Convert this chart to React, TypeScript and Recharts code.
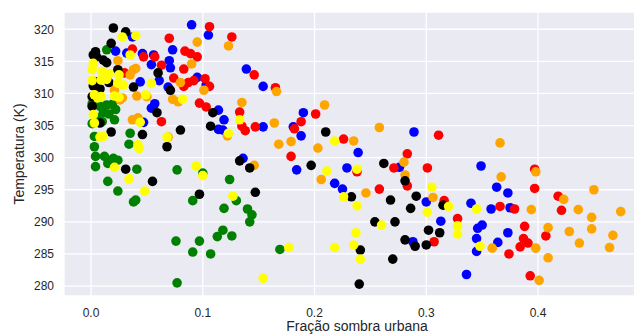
import React from 'react';
import { ScatterChart, Scatter, XAxis, YAxis, CartesianGrid, Label } from 'recharts';

const greenPoints: [number, number][] = [
  [0.014, 316.8], [0.001, 308.4], [0.008, 308.0], [0.014, 308.2], [0.019, 308.3], [0.022, 307.5],
  [0.011, 307.0], [0.016, 306.8], [0.005, 306.2], [0.021, 305.9], [0.001, 305.3], [0.010, 305.6],
  [0.003, 303.3], [0.003, 301.7], [0.004, 300.2], [0.012, 300.2], [0.016, 299.6], [0.020, 299.9],
  [0.024, 299.6], [0.015, 299.1], [0.035, 303.8], [0.034, 302.1], [0.041, 298.2], [0.015, 296.3],
  [0.024, 294.8], [0.038, 293.1], [0.040, 293.4], [0.077, 298.1], [0.076, 287.0], [0.077, 280.5],
  [0.091, 293.3], [0.091, 285.3], [0.097, 287.0], [0.100, 297.6], [0.107, 285.0], [0.113, 287.7],
  [0.118, 288.7], [0.119, 292.1], [0.124, 296.6], [0.126, 287.8], [0.130, 293.3], [0.140, 292.0],
  [0.144, 291.1], [0.142, 290.0], [0.169, 285.7], [0.004, 298.6],
];

const bluePoints: [number, number][] = [
  [0.090, 320.7], [0.105, 319.1], [0.037, 318.8], [0.022, 316.6], [0.032, 316.3], [0.046, 316.2],
  [0.056, 316.0], [0.073, 316.8], [0.070, 315.1], [0.054, 314.5], [0.071, 314.0], [0.095, 312.5],
  [0.103, 311.3], [0.061, 312.0], [0.044, 311.8], [0.069, 311.0], [0.054, 307.7], [0.057, 308.4],
  [0.139, 313.8], [0.154, 311.1], [0.114, 307.4], [0.119, 305.9], [0.114, 304.4], [0.118, 304.3],
  [0.190, 307.0], [0.181, 304.8], [0.188, 303.4], [0.154, 304.8], [0.136, 299.9], [0.184, 298.1],
  [0.047, 305.5], [0.239, 300.8], [0.229, 298.4], [0.218, 296.0], [0.225, 295.1], [0.276, 298.5],
  [0.300, 293.1], [0.313, 290.1], [0.340, 292.9], [0.349, 298.7], [0.363, 295.4], [0.373, 294.5],
  [0.358, 292.0], [0.375, 292.2], [0.350, 289.5], [0.346, 289.0], [0.345, 287.4], [0.345, 285.4],
  [0.364, 286.8], [0.373, 288.3], [0.336, 281.8], [0.288, 286.9], [0.289, 304.0],
];

const redPoints: [number, number][] = [
  [0.106, 320.4], [0.126, 318.8], [0.070, 318.6], [0.037, 316.9], [0.047, 315.7], [0.057, 315.7],
  [0.084, 316.6], [0.089, 316.2], [0.095, 315.7], [0.083, 313.8], [0.063, 314.4], [0.087, 311.7],
  [0.083, 311.1], [0.102, 312.3], [0.106, 311.1], [0.146, 312.9], [0.165, 310.9], [0.097, 308.5],
  [0.103, 307.9], [0.133, 307.1], [0.201, 306.8], [0.188, 305.6], [0.135, 304.9], [0.138, 304.2],
  [0.147, 304.8], [0.179, 300.2], [0.063, 305.6], [0.030, 313.2], [0.182, 304.5], [0.226, 302.9],
  [0.238, 297.8], [0.258, 295.1], [0.271, 298.4], [0.283, 300.6], [0.311, 303.5], [0.301, 298.4],
  [0.397, 298.2], [0.283, 295.6], [0.316, 293.3], [0.328, 290.5], [0.307, 286.9], [0.366, 292.4],
  [0.379, 292.0], [0.374, 285.0], [0.388, 289.3], [0.387, 287.4], [0.384, 286.1], [0.391, 286.7],
  [0.393, 281.6], [0.397, 295.2], [0.407, 287.8], [0.418, 294.0], [0.421, 291.8], [0.074, 312.4],
  [0.092, 312.0],
];

const orangePoints: [number, number][] = [
  [0.095, 318.0], [0.123, 317.4], [0.090, 314.6], [0.080, 311.7], [0.073, 309.1], [0.078, 308.7],
  [0.135, 308.6], [0.101, 310.5], [0.164, 305.4], [0.168, 302.1], [0.179, 302.5], [0.203, 301.5],
  [0.146, 298.8], [0.122, 303.4], [0.069, 303.2], [0.024, 315.1], [0.037, 305.9], [0.042, 306.2],
  [0.050, 309.5], [0.041, 309.6], [0.038, 313.7], [0.035, 312.9], [0.040, 313.9], [0.021, 310.5],
  [0.028, 309.3], [0.026, 309.0], [0.166, 310.3], [0.209, 308.2], [0.235, 302.6], [0.258, 304.7],
  [0.206, 296.6], [0.246, 294.5], [0.366, 302.3], [0.280, 299.3], [0.281, 297.3], [0.306, 293.8],
  [0.367, 297.0], [0.398, 297.8], [0.394, 291.9], [0.359, 285.9], [0.398, 285.9], [0.409, 289.1],
  [0.409, 284.4], [0.401, 280.9], [0.423, 293.5], [0.450, 295.0], [0.436, 291.9], [0.448, 290.7],
  [0.428, 288.5], [0.448, 288.9], [0.437, 286.7], [0.467, 287.9], [0.464, 286.0], [0.474, 291.6],
];

const blackPoints: [number, number][] = [
  [0.020, 320.2], [0.031, 319.6], [0.018, 317.8], [0.004, 316.5], [0.002, 316.0], [0.005, 315.7],
  [0.011, 315.2], [0.014, 314.8], [0.024, 313.7], [0.012, 312.9], [0.005, 311.8], [0.016, 311.7],
  [0.002, 311.2], [0.008, 310.7], [0.038, 311.0], [0.001, 309.5], [0.060, 313.2], [0.071, 310.5],
  [0.059, 307.0], [0.109, 307.0], [0.107, 304.9], [0.080, 304.3], [0.046, 303.6], [0.018, 304.0],
  [0.068, 301.7], [0.008, 305.4], [0.001, 308.0], [0.133, 299.5], [0.142, 298.4], [0.197, 298.8],
  [0.031, 298.2], [0.055, 296.3], [0.097, 294.3], [0.147, 294.6], [0.210, 304.0], [0.262, 299.1],
  [0.233, 293.9], [0.268, 293.4], [0.254, 290.0], [0.272, 290.0], [0.241, 285.6], [0.270, 284.2],
  [0.240, 280.3], [0.281, 296.4], [0.291, 294.0], [0.286, 292.1], [0.315, 292.6], [0.302, 288.7],
  [0.312, 288.3], [0.281, 287.2], [0.290, 286.2], [0.300, 286.4],
];

const yellowPoints: [number, number][] = [
  [0.028, 318.8], [0.040, 319.0], [0.035, 316.0], [0.002, 314.7], [0.001, 313.7], [0.010, 313.4],
  [0.016, 313.1], [0.025, 312.9], [0.009, 312.1], [0.001, 312.0], [0.014, 312.2], [0.024, 311.6],
  [0.029, 311.3], [0.003, 309.8], [0.006, 309.3], [0.009, 309.5], [0.021, 309.6], [0.025, 309.4],
  [0.049, 309.8], [0.054, 311.6], [0.082, 309.1], [0.002, 306.7], [0.003, 305.4], [0.008, 303.2],
  [0.011, 303.3], [0.044, 305.5], [0.068, 303.2], [0.042, 302.0], [0.043, 301.4], [0.133, 305.9],
  [0.123, 303.8], [0.021, 298.5], [0.034, 296.7], [0.048, 294.8], [0.094, 298.7], [0.100, 297.2],
  [0.127, 294.0], [0.154, 281.2], [0.177, 286.0], [0.218, 302.6], [0.211, 297.9], [0.238, 298.2],
  [0.226, 293.9], [0.238, 292.5], [0.260, 289.5], [0.237, 288.3], [0.235, 286.4], [0.218, 286.0],
  [0.241, 284.2], [0.305, 295.4], [0.301, 291.5], [0.320, 292.4], [0.345, 292.0], [0.328, 289.4],
  [0.328, 288.1], [0.348, 286.2],
];

const seriesNames = ['green', 'blue', 'red', 'orange', 'black', 'yellow'];
const seriesColors = ['#008000', '#0000FF', '#FF0000', '#FFA500', '#000000', '#FFFF00'];
const seriesPoints = [greenPoints, bluePoints, redPoints, orangePoints, blackPoints, yellowPoints];

const xTicks = [0, 0.1, 0.2, 0.3, 0.4];
const yTicks = [280, 285, 290, 295, 300, 305, 310, 315, 320];
const xDomain: [number, number] = [-0.0242, 0.5002];
const yDomain: [number, number] = [278.45, 322.69];
const xLabel = 'Fração sombra urbana';
const yLabel = 'Temperatura (K)';

const FONT = '"Liberation Sans", Arial, sans-serif';
const TEXT = '#262626';

const makeShape = (color: string) => (props: any) => (
  <circle cx={props.cx} cy={props.cy} r={4.8} fill={color} />
);

const renderYLabel = (props: any) => {
  const vb = props.viewBox || { x: 0, y: 12, width: 64, height: 284 };
  const cx = vb.x + 24;
  const cy = vb.y + vb.height / 2;
  return (
    <text x={cx} y={cy} transform={`rotate(-90 ${cx} ${cy})`} textAnchor="middle"
      fontSize={14} fill={TEXT} fontFamily={FONT}>{yLabel}</text>
  );
};

const renderXLabel = (props: any) => {
  const vb = props.viewBox || { x: 64, y: 296, width: 586, height: 49 };
  const cx = vb.x + vb.width / 2;
  const cy = vb.y + 35;
  return (
    <text x={cx} y={cy} textAnchor="middle" fontSize={14} fill={TEXT} fontFamily={FONT}>{xLabel}</text>
  );
};

export default function App() {
  return (
    <div style={{ position: 'absolute', left: 0, top: 0, width: 634, height: 335, overflow: 'hidden', background: '#fff' }}>
      <ScatterChart width={652} height={345} margin={{ top: 12, right: 2, bottom: 0, left: 0 }}>
        <CartesianGrid fill="#EAEAF2" stroke="#FFFFFF" strokeWidth={1.3} />
        <XAxis type="number" dataKey="x" domain={xDomain} ticks={xTicks} allowDataOverflow
          tickFormatter={(v: number) => v.toFixed(1)} axisLine={false} tickLine={false}
          tickSize={0} tickMargin={12} height={49}
          tick={{ fontSize: 12, fill: TEXT, fontFamily: FONT }}>
          <Label content={renderXLabel} />
        </XAxis>
        <YAxis type="number" dataKey="y" domain={yDomain} ticks={yTicks} allowDataOverflow
          axisLine={false} tickLine={false} tickSize={0} tickMargin={10} width={64}
          tick={{ fontSize: 12, fill: TEXT, fontFamily: FONT }}>
          <Label content={renderYLabel} />
        </YAxis>
        {seriesPoints.map((pts, i) => (
          <Scatter key={seriesNames[i]} name={seriesNames[i]}
            data={pts.map(([x, y]) => ({ x, y }))}
            fill={seriesColors[i]} shape={makeShape(seriesColors[i])}
            isAnimationActive={false} />
        ))}
      </ScatterChart>
    </div>
  );
}
